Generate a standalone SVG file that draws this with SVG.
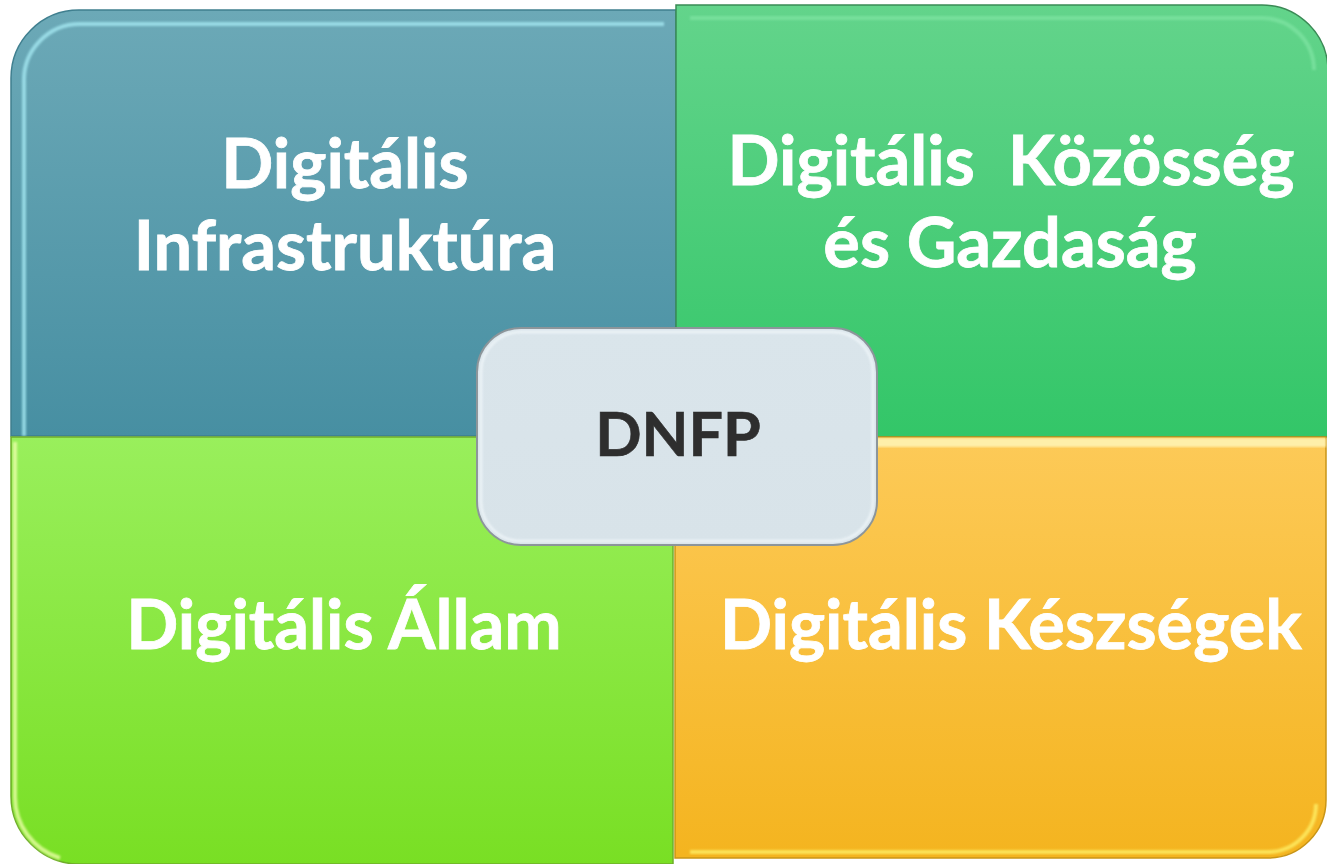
<svg xmlns="http://www.w3.org/2000/svg" width="1327" height="864" viewBox="0 0 1327 864">
  <style>
    .lbl { font-family: Lato, "Open Sans", "Liberation Sans", sans-serif; font-weight: 700; font-size: 68.5px; fill: #ffffff; stroke: #ffffff; stroke-width: 0.8; text-anchor: middle; }
    .ctr { font-family: Lato, "Open Sans", "Liberation Sans", sans-serif; font-weight: 700; font-size: 61px; fill: #2e2e2e; stroke: #2e2e2e; stroke-width: 0.6; text-anchor: middle; }
    .hl { fill: none; stroke-width: 4; opacity: 0.75; filter: url(#soft); }
  </style>
  <defs>
    <linearGradient id="gTL" x1="0" y1="0" x2="0" y2="1">
      <stop offset="0" stop-color="#6ca9b7"/>
      <stop offset="1" stop-color="#478fa2"/>
    </linearGradient>
    <linearGradient id="gTR" x1="0" y1="0" x2="0" y2="1">
      <stop offset="0" stop-color="#63d48b"/>
      <stop offset="1" stop-color="#33c668"/>
    </linearGradient>
    <linearGradient id="gBL" x1="0" y1="0" x2="0" y2="1">
      <stop offset="0" stop-color="#99ef5c"/>
      <stop offset="1" stop-color="#79df24"/>
    </linearGradient>
    <linearGradient id="gBR" x1="0" y1="0" x2="0" y2="1">
      <stop offset="0" stop-color="#fdca58"/>
      <stop offset="1" stop-color="#f4b41f"/>
    </linearGradient>
    <linearGradient id="gC" x1="0" y1="0" x2="0" y2="1">
      <stop offset="0" stop-color="#dae5eb"/>
      <stop offset="1" stop-color="#d8e3e9"/>
    </linearGradient>
    <filter id="soft" x="-5%" y="-5%" width="110%" height="110%">
      <feGaussianBlur stdDeviation="1.2"/>
    </filter>
  </defs>
  <rect width="1327" height="864" fill="#ffffff"/>

  <g id="node-infrastruktura">
    <path d="M11,78 A68,68 0 0 1 79,10 L676,10 L676,436 L11,436 Z" fill="url(#gTL)" stroke="#3f7f8f" stroke-width="1.5"/>
    <path class="hl" d="M24,436 L24,82 A56,56 0 0 1 80,24 L664,24" stroke="#a8ecf5"/>
    <path class="hl" d="M24,431 L664,431" stroke="#8fdbe8"/>
    <text class="lbl" x="345" y="188">Digitális</text>
    <text class="lbl" x="345" y="270">Infrastruktúra</text>
  </g>

  <g id="node-kozosseg">
    <path d="M676,5 L1262,5 A66,66 0 0 1 1328,71 L1328,437 L676,437 Z" fill="url(#gTR)" stroke="#3a8a55" stroke-width="1.5"/>
    <path class="hl" d="M690,430 L690,20" stroke="#a6f7c4"/>
    <path class="hl" d="M690,18 L1262,18 A52,52 0 0 1 1314,70" stroke="#7fe4a3" opacity="0.4"/>
    <text class="lbl" x="1011" y="185" xml:space="preserve">Digitális  Közösség</text>
    <text class="lbl" x="1010" y="267">és Gazdaság</text>
  </g>

  <g id="node-allam">
    <path d="M11,437 L673,437 L673,864 L79,864 A68,68 0 0 1 11,796 Z" fill="url(#gBL)" stroke="#6fae2a" stroke-width="1.5"/>
    <path class="hl" d="M15,442 L15,796 A64,64 0 0 0 60,858" stroke="#f2ffb0"/>
    <path class="hl" d="M663,444 L663,850" stroke="#d4ff90"/>
    <path class="hl" d="M20,442 L668,442" stroke="#c3f88f" opacity="0.5"/>
    <text class="lbl" x="344" y="649">Digitális Állam</text>
  </g>

  <g id="node-keszsegek">
    <path d="M675,437 L1326,437 L1326,800 A58,58 0 0 1 1268,858 L675,858 Z" fill="url(#gBR)" stroke="#c99517" stroke-width="1.5"/>
    <rect x="675" y="438" width="651" height="9" fill="#fff6b8" opacity="0.85" filter="url(#soft)"/>
    <path class="hl" d="M690,852 L1268,852 A48,48 0 0 0 1316,804" stroke="#fff36a"/>
    <text class="lbl" x="1011" y="649">Digitális Készségek</text>
  </g>

  <g id="connectors"></g>

  <g id="node-dnfp">
    <rect x="477" y="328" width="400" height="217" rx="44" ry="44" fill="url(#gC)" stroke="#8c959a" stroke-width="2"/>
    <rect x="481" y="332" width="392" height="209" rx="40" ry="40" fill="none" stroke="#f2f8fb" stroke-width="2.5" opacity="0.8" filter="url(#soft)"/>
    <text class="ctr" x="678" y="456">DNFP</text>
  </g>
</svg>
